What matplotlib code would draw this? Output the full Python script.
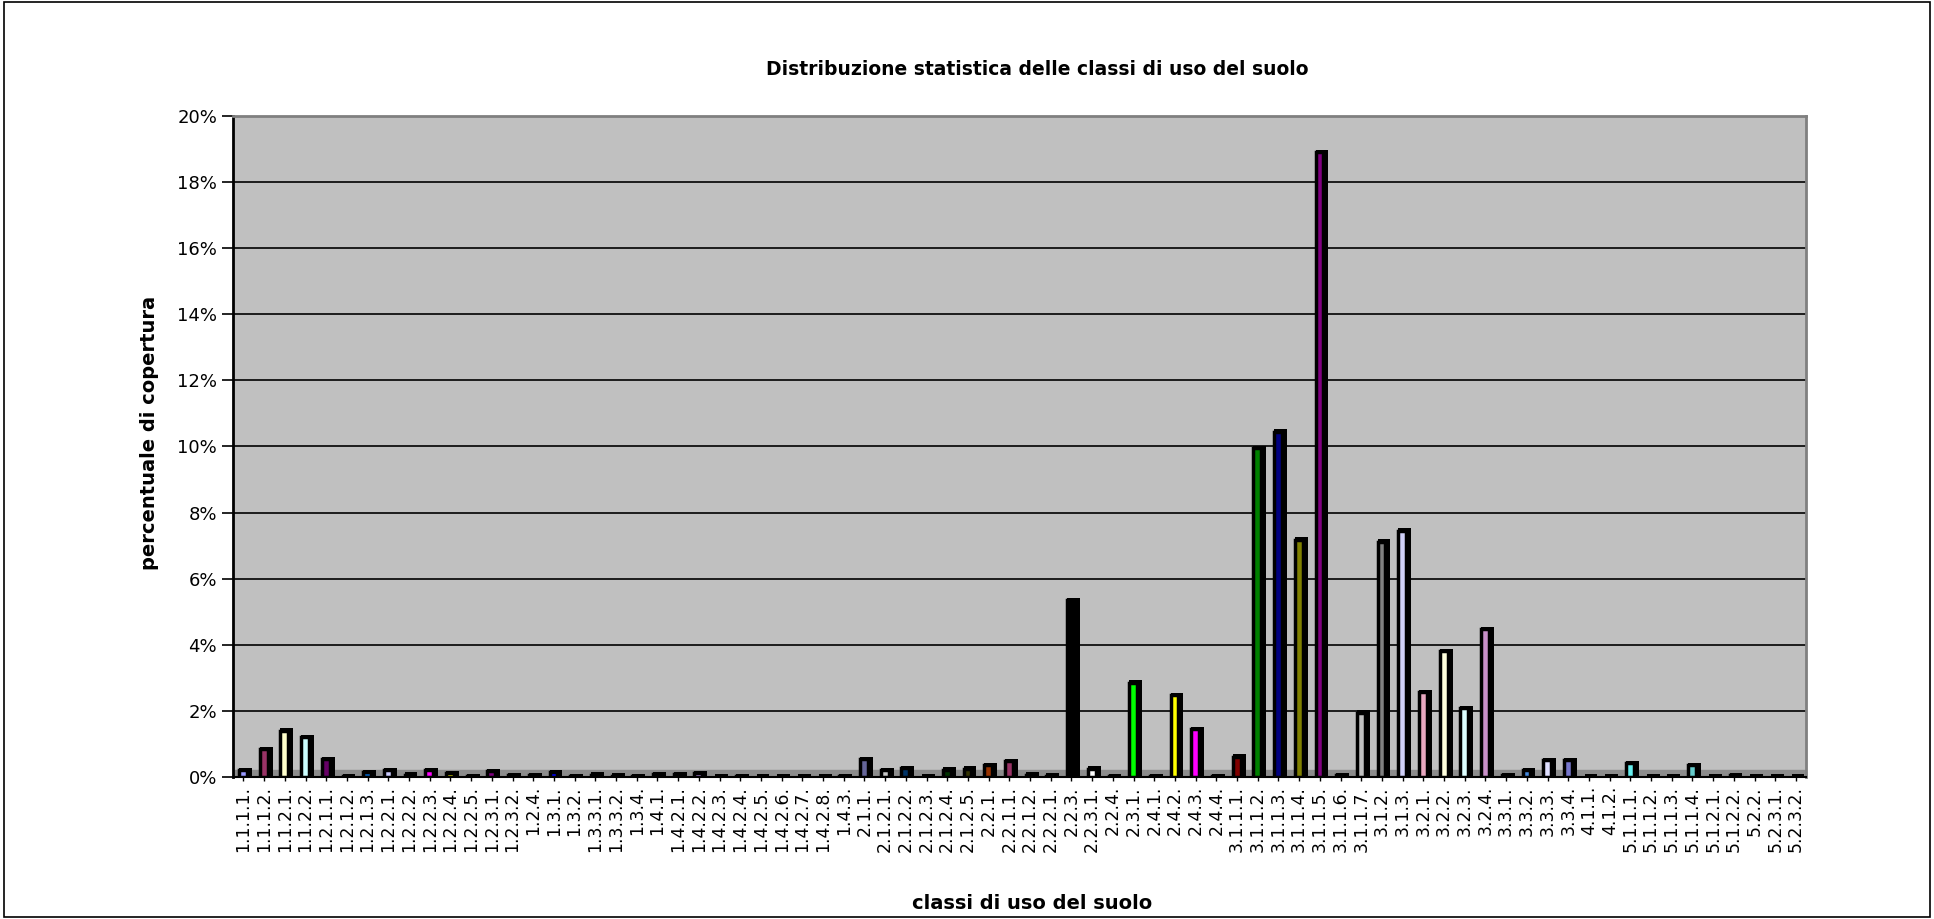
import matplotlib.pyplot as plt
import matplotlib.patches as patches
import numpy as np

classi = ['1.1.1.1.', '1.1.1.2.', '1.1.2.1.', '1.1.2.2.', '1.2.1.1.', '1.2.1.2.', '1.2.1.3.',
          '1.2.2.1.', '1.2.2.2.', '1.2.2.3.', '1.2.2.4.', '1.2.2.5.', '1.2.3.1.', '1.2.3.2.',
          '1.2.4.', '1.3.1.', '1.3.2.', '1.3.3.1.', '1.3.3.2.', '1.3.4.', '1.4.1.', '1.4.2.1.',
          '1.4.2.2.', '1.4.2.3.', '1.4.2.4.', '1.4.2.5.', '1.4.2.6.', '1.4.2.7.', '1.4.2.8.',
          '1.4.3.', '2.1.1.', '2.1.2.1.', '2.1.2.2.', '2.1.2.3.', '2.1.2.4.', '2.1.2.5.',
          '2.2.1.', '2.2.1.1.', '2.2.1.2.', '2.2.2.1.', '2.2.3.', '2.2.3.1.', '2.2.4.',
          '2.3.1.', '2.4.1.', '2.4.2.', '2.4.3.', '2.4.4.', '3.1.1.1.', '3.1.1.2.', '3.1.1.3.',
          '3.1.1.4.', '3.1.1.5.', '3.1.1.6.', '3.1.1.7.', '3.1.2.', '3.1.3.', '3.2.1.',
          '3.2.2.', '3.2.3.', '3.2.4.', '3.3.1.', '3.3.2.', '3.3.3.', '3.3.4.', '4.1.1.',
          '4.1.2.', '5.1.1.1.', '5.1.1.2.', '5.1.1.3.', '5.1.1.4.', '5.1.2.1.', '5.1.2.2.',
          '5.2.2.', '5.2.3.1.', '5.2.3.2.']

# percentuale di copertura (%)
copertura = [0.20, 0.85, 1.40, 1.20, 0.55, 0.02, 0.15, 0.20, 0.07, 0.20, 0.12, 0.03, 0.18,
             0.06, 0.05, 0.15, 0.02, 0.07, 0.04, 0.02, 0.08, 0.08, 0.11, 0.01, 0.02, 0.01,
             0.01, 0.01, 0.01, 0.03, 0.55, 0.20, 0.26, 0.01, 0.22, 0.25, 0.36, 0.48, 0.07,
             0.04, 5.35, 0.25, 0.02, 2.85, 0.02, 2.48, 1.45, 0.02, 0.62, 9.95, 10.45, 7.18,
             18.9, 0.05, 1.95, 7.12, 7.45, 2.57, 3.80, 2.08, 4.47, 0.05, 0.20, 0.50, 0.52,
             0.01, 0.01, 0.42, 0.01, 0.01, 0.35, 0.01, 0.05, 0.01, 0.01, 0.01]

colori = ['#9999FF', '#993366', '#FFFFCC', '#CCFFFF', '#660066', '#FF8080', '#0066CC',
          '#CCCCFF', '#000080', '#FF00FF', '#FFFF00', '#00FFFF', '#800080', '#800000',
          '#008080', '#0000FF', '#00CCFF', '#CCFFFF', '#CCFFCC', '#FFFF99', '#99CCFF',
          '#FF99CC', '#CC99FF', '#FFCC99', '#3366FF', '#33CCCC', '#99CC00', '#FFCC00',
          '#FF9900', '#FF6600', '#666699', '#C8C8C8', '#003366', '#339966', '#003300',
          '#333300', '#993300', '#993366', '#333399', '#333333', '#000000', '#FFFFFF',
          '#FF0000', '#00FF00', '#0000FF', '#FFFF00', '#FF00FF', '#00FFFF', '#800000',
          '#008000', '#000080', '#808000', '#800080', '#008080', '#C0C0C0', '#808080',
          '#D0D0F8', '#E8A8C0', '#FFFFDD', '#DDFFFF', '#C890C8', '#000000', '#4488DD',
          '#E0E0FF', '#7777CC', '#000000', '#000000', '#66EEEE', '#000000', '#000000',
          '#66CCCC', '#000000', '#000000', '#000000', '#000000', '#000000']

fig = plt.figure(figsize=(19.34, 9.19), dpi=100)
fig.patches.append(patches.Rectangle((0.002, 0.002), 0.996, 0.996, transform=fig.transFigure,
                                     fill=False, edgecolor='black', linewidth=1.2))

ax = fig.add_axes([0.1205, 0.1545, 0.8135, 0.7195])
ax.set_facecolor('#C0C0C0')

x = np.arange(len(classi))
ax.axhspan(0, 0.2, color='#8C8C8C', zorder=1)
ax.grid(axis='y', color='black', linewidth=1.2, zorder=1)
ax.set_axisbelow(True)

# black "shadow" to mimic the 3D side of the bars
ax.bar(x + 0.1, np.array(copertura) + 0.07, width=0.62, color='black', zorder=2)
ax.bar(x - 0.02, copertura, width=0.38, color=colori, edgecolor='black', linewidth=2.5,
       zorder=3)

ax.set_xlim(-0.5, len(classi) - 0.5)
ax.set_ylim(0, 20)
ax.set_yticks(np.arange(0, 21, 2))
ax.set_yticklabels([f'{v}%' for v in range(0, 21, 2)], fontsize=13)
ax.set_xticks(x)
ax.set_xticklabels(classi, rotation=90, fontsize=12.5)
ax.tick_params(axis='y', length=8, width=1.2)
ax.tick_params(axis='x', length=3, width=1)

for s in ['top', 'right']:
    ax.spines[s].set_color('#808080')
    ax.spines[s].set_linewidth(2)
ax.spines['left'].set_linewidth(2)
ax.spines['bottom'].set_linewidth(1.5)

ax.text(0.511, 1.07, 'Distribuzione statistica delle classi di uso del suolo',
        transform=ax.transAxes, fontsize=13.5, fontweight='bold', ha='center', va='center')
ax.set_ylabel('percentuale di copertura', fontsize=14, fontweight='bold')
ax.yaxis.set_label_coords(-0.047, 0.52)
ax.text(0.508, -0.192, 'classi di uso del suolo', transform=ax.transAxes, fontsize=14,
        fontweight='bold', ha='center', va='center')

fig.savefig('out.png', dpi=100)
